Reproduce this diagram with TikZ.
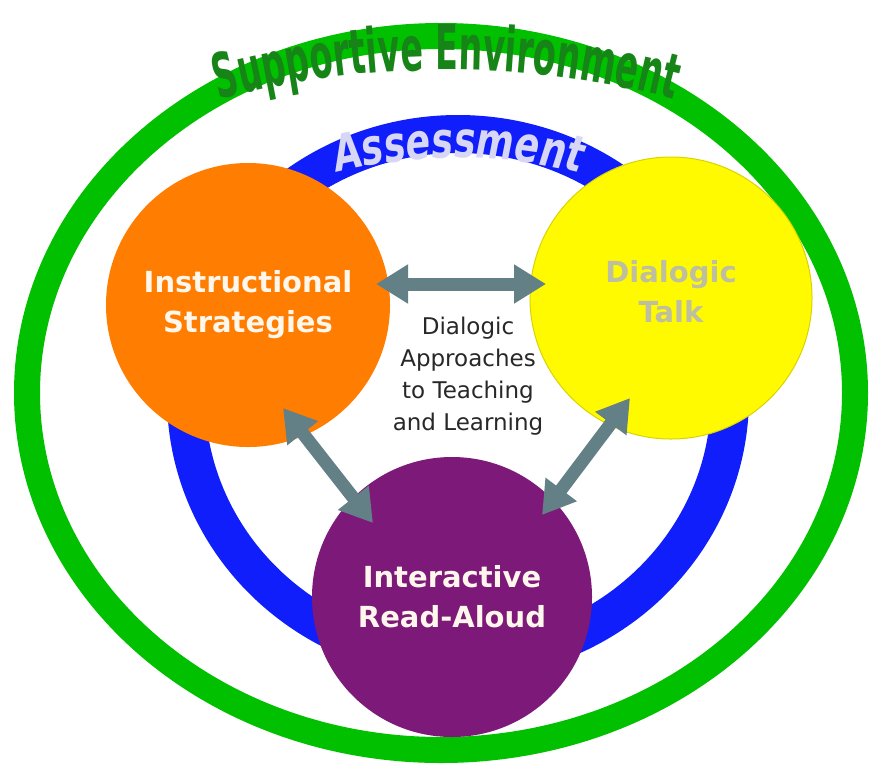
\documentclass[tikz,border=0pt]{standalone}
\usepackage{fontspec}
\setmainfont{DejaVu Sans}
\newfontfamily\narrowfont[FakeStretch=0.54]{DejaVu Sans Bold}
\newfontfamily\assessfont[FakeStretch=0.73,FakeSlant=0.12]{DejaVu Sans Bold}
\usetikzlibrary{arrows.meta,decorations.text}
\definecolor{ringgreen}{RGB}{0,192,0}
\definecolor{ringblue}{RGB}{15,30,250}
\definecolor{isorange}{RGB}{255,125,0}
\definecolor{dtyellow}{RGB}{255,250,0}
\definecolor{irpurple}{RGB}{125,25,120}
\definecolor{arrowgray}{RGB}{100,128,135}
\definecolor{textgreen}{RGB}{22,132,22}
\definecolor{assesstext}{RGB}{215,215,245}
\definecolor{talktext}{RGB}{190,190,160}
\definecolor{labelwhite}{RGB}{255,246,236}
\definecolor{midtext}{RGB}{40,40,40}
\begin{document}
\begin{tikzpicture}[x=1pt,y=-1pt,
  bubble/.style={circle, minimum size=#1, inner sep=0pt, align=center,
    font=\bfseries\fontsize{29}{40}\selectfont},
  linkarrow/.style={draw=arrowgray, line width=13pt,
    {Triangle[width=37pt,length=32pt]}-{Triangle[width=37pt,length=32pt]}}]
\useasboundingbox[fill=white] (0,0) rectangle (874,772);
% rings
\draw[ringgreen, line width=26pt] (441,393) ellipse [x radius=414pt, y radius=357pt];
\draw[ringblue, line width=38pt] (458,397) ellipse [x radius=272pt, y radius=263pt];
% circles
\node[bubble=284pt, fill=isorange, text=labelwhite] (instr) at (248,305) {Instructional\\Strategies};
\node[bubble=282pt, fill=dtyellow, draw=dtyellow!85!black, line width=1pt, text=talktext] (talk) at (671,298) {};
\node[text=talktext, align=center, font=\bfseries\fontsize{29}{40}\selectfont] (talklabel) at (talk.center) [yshift=6pt] {Dialogic\\Talk};
\node[bubble=280pt, fill=irpurple, text=labelwhite] (read) at (452,597) {Interactive\\Read-Aloud};
% centre text
\node[align=center, text=midtext, font=\fontsize{23}{32}\selectfont] (centre) at (468,376)
  {Dialogic\\Approaches\\to Teaching\\and Learning};
% arrow end points
\coordinate (hA) at (376,284);
\coordinate (hB) at (546,284);
\coordinate (lA) at (283,408);
\coordinate (lB) at (373,523);
\coordinate (rA) at (630,398);
\coordinate (rB) at (542,515);
\draw[linkarrow] (hA) -- (hB);
\draw[linkarrow] (lA) -- (lB);
\draw[linkarrow] (rA) -- (rB);
% curved titles
\path[decorate, decoration={text along path, text align=center, text color=textgreen,
  text={|\narrowfont\fontsize{62}{62}\selectfont|Supportive Environment}}]
  (109,135.5) arc[start angle=112, end angle=68, radius=900pt];
\path[decorate, decoration={text along path, text align=center, text color=assesstext,
  text={|\assessfont\fontsize{50}{50}\selectfont|Assessment}}]
  (286,188) arc[start angle=110, end angle=70, radius=500pt];
\end{tikzpicture}
\end{document}
